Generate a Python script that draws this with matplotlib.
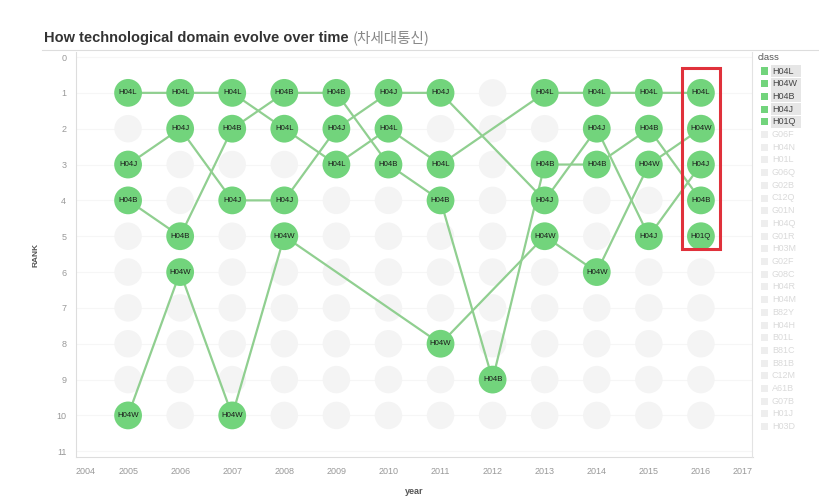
import matplotlib
matplotlib.use("Agg")
import matplotlib.pyplot as plt
from matplotlib.patches import Rectangle
from matplotlib.lines import Line2D

# ---- data ----
years = [2005, 2006, 2007, 2008, 2009, 2010, 2011, 2012, 2013, 2014, 2015, 2016]
ranks_all = list(range(1, 11))
H04L = [1, 1, 1, 2, 3, 2, 3, None, 1, 1, 1, 1]
H04W = [10, 6, 10, 5, None, None, 8, None, 5, 6, 3, 2]
H04B = [4, 5, 2, 1, 1, 3, 4, 9, 3, 3, 2, 4]
H04J = [3, 2, 4, 4, 2, 1, 1, None, 4, 2, 5, 3]
H01Q = [None, None, None, None, None, None, None, None, None, None, None, 5]
series = {"H04L": H04L, "H04W": H04W, "H04B": H04B, "H04J": H04J, "H01Q": H01Q}
legend_hi = ["H04L", "H04W", "H04B", "H04J", "H01Q"]
legend_lo = ["G06F", "H04N", "H01L", "G06Q", "G02B", "C12Q", "G01N", "H04Q", "G01R",
             "H03M", "G02F", "G08C", "H04R", "H04M", "B82Y", "H04H", "B01L", "B81C",
             "B81B", "C12M", "A61B", "G07B", "H01J", "H03D"]
x_ticks = list(range(2004, 2018))
y_ticks = list(range(0, 12))

W, H = 819, 501
fig = plt.figure(figsize=(W / 100, H / 100), dpi=100)
ax = fig.add_axes([76 / W, (H - 457) / H, (753 - 76) / W, (457 - 52) / H])
ax.set_xlim(2004, 2017)
ax.set_ylim(11.16, -0.14)

green = "#72d47c"
line_green = "#90cf90"

# horizontal faint grid
for r in y_ticks:
    ax.axhline(r, color="#f6f6f6", lw=0.8, zorder=0)

# faded background circles
occupied = set()
for name, vals in series.items():
    for y, v in zip(years, vals):
        if v is not None:
            occupied.add((y, v))
bx, by = [], []
for y in years:
    for r in ranks_all:
        if (y, r) not in occupied:
            bx.append(y)
            by.append(r)
ax.scatter(bx, by, s=390, color="#f4f4f4", edgecolors="none", zorder=1)

# lines
for name, vals in series.items():
    xs = [y for y, v in zip(years, vals) if v is not None]
    ys = [v for v in vals if v is not None]
    ax.plot(xs, ys, color=line_green, lw=1.6, zorder=2, solid_capstyle="round")

# highlighted circles and labels
for name, vals in series.items():
    xs = [y for y, v in zip(years, vals) if v is not None]
    ys = [v for v in vals if v is not None]
    ax.scatter(xs, ys, s=400, color=green, edgecolors="none", zorder=3)
    for xx, yy in zip(xs, ys):
        ax.text(xx, yy, name, ha="center", va="center", fontsize=5.6,
                family="Liberation Sans", color="#1a1a1a", zorder=4)

# red highlight rectangle
ax.add_patch(Rectangle((2016 - 0.36, 0.30), 0.72, 5.07, fill=False,
                       edgecolor="#e0313b", lw=2.2, zorder=5))

# axes styling
for s in ["top", "right"]:
    ax.spines[s].set_visible(False)
ax.spines["left"].set_color("#dddddd")
ax.spines["bottom"].set_color("#dddddd")
ax.set_yticks(y_ticks)
ax.set_yticklabels([str(t) for t in y_ticks], fontsize=6.5, color="#999999",
                   family="Liberation Sans")
ax.set_xticks(x_ticks)
ax.set_xticklabels([str(t) for t in x_ticks], fontsize=6.5, color="#999999",
                   family="Liberation Sans")
ax.tick_params(length=0, pad=7)
labs = ax.get_xticklabels()
labs[0].set_ha("left")
labs[-1].set_ha("right")
ax.set_xlabel("year", fontsize=6.5, color="#555555", family="Liberation Sans",
              fontweight="bold", labelpad=8)
ax.set_ylabel("RANK", fontsize=6, color="#555555", family="Liberation Sans",
              fontweight="bold", labelpad=12)

# title
t1 = fig.text(44 / W, 1 - 42 / H, "How technological domain evolve over time ",
              fontsize=10.5, fontweight="bold", color="#333333",
              family="Liberation Sans", ha="left", va="baseline")
fig.canvas.draw()
ax.annotate("(차세대통신)", xy=(1, 0), xycoords=t1, va="bottom", ha="left",
            fontsize=10.5, color="#888888",
            family=["Noto Sans CJK KR", "DejaVu Sans"])
fig.add_artist(Line2D([42 / W, 1], [1 - 50 / H, 1 - 50 / H], color="#dddddd", lw=0.8))

# legend separator
fig.add_artist(Line2D([752 / W, 752 / W], [1 - 52 / H, 1 - 457 / H], color="#e3e3e3", lw=0.8))

# custom legend
fig.text(758 / W, 1 - 58 / H, "class", fontsize=6.8, color="#555555",
         family="Liberation Sans", va="center", ha="left")
step = 12.7
y0 = 71
for i, name in enumerate(legend_hi + legend_lo):
    yy = y0 + i * step
    hi = name in legend_hi
    if hi:
        fig.add_artist(Rectangle((771 / W, 1 - (yy + 6) / H), 30 / W, 12 / H,
                                 transform=fig.transFigure, color="#e6e6e6", lw=0))
    fig.add_artist(Rectangle((761 / W, 1 - (yy + 3.5) / H), 7 / W, 7 / H,
                             transform=fig.transFigure,
                             color=green if hi else "#eeeeee", lw=0))
    fig.text(772 / W, 1 - yy / H, name, fontsize=6.5,
             color="#444444" if hi else "#dadada",
             family="Liberation Sans", va="center", ha="left")

fig.savefig("out.png", dpi=100)
